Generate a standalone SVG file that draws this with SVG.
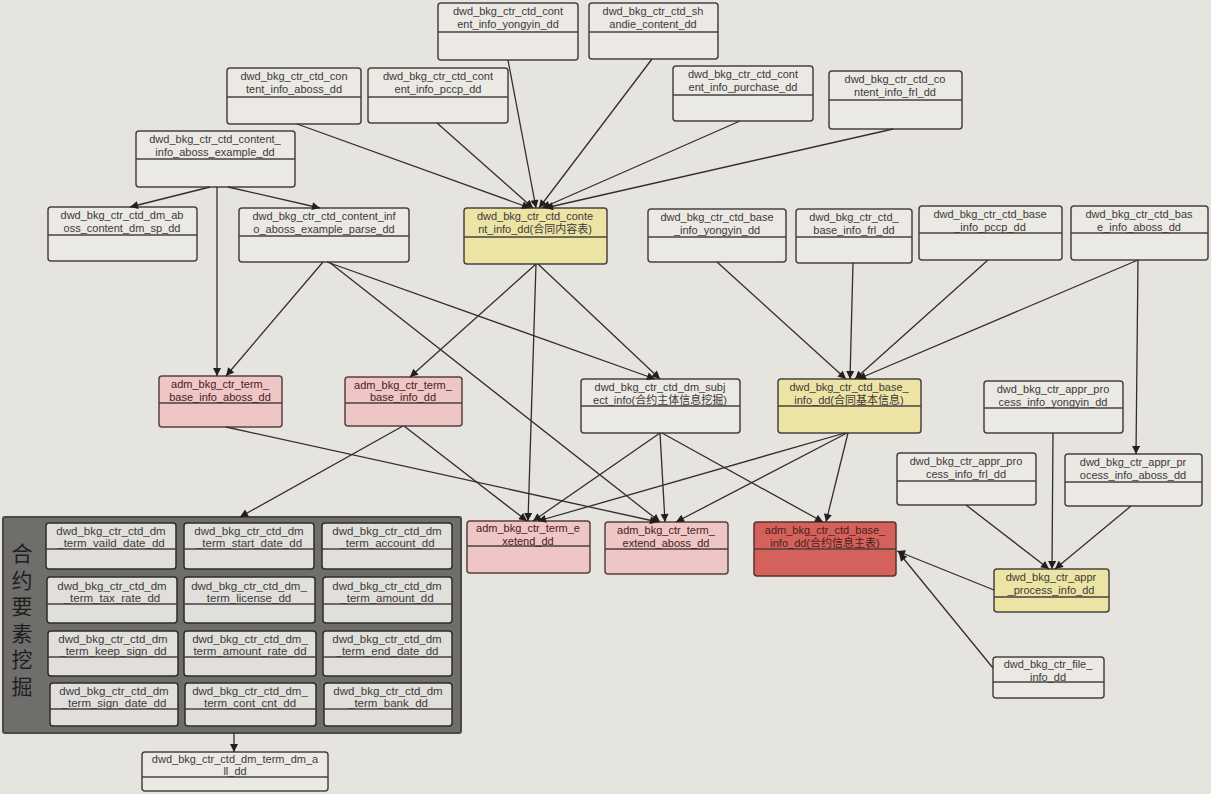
<svg xmlns="http://www.w3.org/2000/svg" width="1211" height="794" viewBox="0 0 1211 794">
<defs>
<marker id="arr" viewBox="0 0 10 10" refX="10" refY="5" markerWidth="10" markerHeight="8" markerUnits="userSpaceOnUse" orient="auto">
<path d="M0,0 L10,5 L0,10 z" fill="#231f1f"/>
</marker>
</defs>
<style>
.bg{fill:#e6e4df}
.box{fill:#ebe9e4;stroke:#4a4040;stroke-width:1.5}
.yel{fill:#ece4a4;stroke:#4a4040;stroke-width:1.5}
.pink{fill:#efc6c6;stroke:#5a3f3f;stroke-width:1.5}
.red{fill:#d4625b;stroke:#5a3030;stroke-width:1.5}
.gbox{fill:#e0dfdb;stroke:#2e2c2c;stroke-width:1.5}
.div{stroke:#4a4040;stroke-width:1.3}
.t{font-family:"Liberation Sans","Noto Sans CJK SC",sans-serif;font-size:11px;fill:#3e3a3a;text-anchor:middle}
.tg{font-family:"Liberation Sans","Noto Sans CJK SC",sans-serif;font-size:11.5px;fill:#3e3a3a;text-anchor:middle}
.tr{font-family:"Liberation Sans","Noto Sans CJK SC",sans-serif;font-size:11px;fill:#4a2020;text-anchor:middle}
.grp{fill:#6f6e6b;stroke:#4a4947;stroke-width:2}
.gl{font-family:"Noto Sans CJK SC",sans-serif;font-size:21px;fill:#1e1e1e;writing-mode:vertical-rl;letter-spacing:5.5px}
.e{stroke:#332e2e;stroke-width:1.3;fill:none;marker-end:url(#arr)}
</style>
<rect class="bg" x="0" y="0" width="1211" height="794"/>

<g id="group_term">
<rect class="grp" x="3" y="517" width="458" height="216" rx="2"/>
<text class="gl" x="22" y="543">合约要素挖掘</text>
</g>

<g id="n_vaild"><rect class="gbox" x="46" y="523" width="130" height="46" rx="3"/><line class="div" x1="46" y1="549" x2="176" y2="549"/><text class="tg" x="111" y="535">dwd_bkg_ctr_ctd_dm</text><text class="tg" x="111" y="547">_term_vaild_date_dd</text></g>
<g id="n_start"><rect class="gbox" x="184" y="523" width="130" height="46" rx="3"/><line class="div" x1="184" y1="549" x2="314" y2="549"/><text class="tg" x="249" y="535">dwd_bkg_ctr_ctd_dm</text><text class="tg" x="249" y="547">_term_start_date_dd</text></g>
<g id="n_account"><rect class="gbox" x="322" y="523" width="130" height="46" rx="3"/><line class="div" x1="322" y1="549" x2="452" y2="549"/><text class="tg" x="387" y="535">dwd_bkg_ctr_ctd_dm</text><text class="tg" x="387" y="547">_term_account_dd</text></g>

<g id="n_tax"><rect class="gbox" x="47" y="577" width="130" height="46" rx="3"/><line class="div" x1="47" y1="604" x2="177" y2="604"/><text class="tg" x="112" y="590">dwd_bkg_ctr_ctd_dm</text><text class="tg" x="112" y="602">_term_tax_rate_dd</text></g>
<g id="n_license"><rect class="gbox" x="184" y="577" width="131" height="46" rx="3"/><line class="div" x1="184" y1="604" x2="315" y2="604"/><text class="tg" x="249" y="590">dwd_bkg_ctr_ctd_dm_</text><text class="tg" x="249" y="602">term_license_dd</text></g>
<g id="n_amount"><rect class="gbox" x="323" y="577" width="129" height="46" rx="3"/><line class="div" x1="323" y1="604" x2="452" y2="604"/><text class="tg" x="387" y="590">dwd_bkg_ctr_ctd_dm</text><text class="tg" x="387" y="602">_term_amount_dd</text></g>

<g id="n_keep"><rect class="gbox" x="48" y="631" width="130" height="45" rx="3"/><line class="div" x1="48" y1="657" x2="178" y2="657"/><text class="tg" x="113" y="643">dwd_bkg_ctr_ctd_dm</text><text class="tg" x="113" y="655">_term_keep_sign_dd</text></g>
<g id="n_amount_rate"><rect class="gbox" x="184" y="631" width="132" height="45" rx="3"/><line class="div" x1="184" y1="657" x2="316" y2="657"/><text class="tg" x="250" y="643">dwd_bkg_ctr_ctd_dm_</text><text class="tg" x="250" y="655">term_amount_rate_dd</text></g>
<g id="n_end"><rect class="gbox" x="323" y="631" width="129" height="45" rx="3"/><line class="div" x1="323" y1="657" x2="452" y2="657"/><text class="tg" x="387" y="643">dwd_bkg_ctr_ctd_dm</text><text class="tg" x="387" y="655">_term_end_date_dd</text></g>

<g id="n_sign"><rect class="gbox" x="50" y="683" width="128" height="43" rx="3"/><line class="div" x1="50" y1="709" x2="178" y2="709"/><text class="tg" x="114" y="695">dwd_bkg_ctr_ctd_dm</text><text class="tg" x="114" y="707">_term_sign_date_dd</text></g>
<g id="n_cont_cnt"><rect class="gbox" x="185" y="683" width="131" height="43" rx="3"/><line class="div" x1="185" y1="709" x2="316" y2="709"/><text class="tg" x="250" y="695">dwd_bkg_ctr_ctd_dm_</text><text class="tg" x="250" y="707">term_cont_cnt_dd</text></g>
<g id="n_bank"><rect class="gbox" x="324" y="683" width="128" height="43" rx="3"/><line class="div" x1="324" y1="709" x2="452" y2="709"/><text class="tg" x="388" y="695">dwd_bkg_ctr_ctd_dm</text><text class="tg" x="388" y="707">_term_bank_dd</text></g>

<g id="n_yongyin"><rect class="box" x="438" y="3" width="140" height="57" rx="3"/><line class="div" x1="438" y1="32" x2="578" y2="32"/><text class="t" x="508" y="15">dwd_bkg_ctr_ctd_cont</text><text class="t" x="508" y="28">ent_info_yongyin_dd</text></g>
<g id="n_shandie"><rect class="box" x="589" y="3" width="129" height="56" rx="3"/><line class="div" x1="589" y1="32" x2="718" y2="32"/><text class="t" x="653" y="15">dwd_bkg_ctr_ctd_sh</text><text class="t" x="653" y="28">andie_content_dd</text></g>
<g id="n_c_aboss"><rect class="box" x="227" y="68" width="134" height="56" rx="3"/><line class="div" x1="227" y1="97" x2="361" y2="97"/><text class="t" x="294" y="80">dwd_bkg_ctr_ctd_con</text><text class="t" x="294" y="93">tent_info_aboss_dd</text></g>
<g id="n_c_pccp"><rect class="box" x="368" y="68" width="140" height="55" rx="3"/><line class="div" x1="368" y1="97" x2="508" y2="97"/><text class="t" x="438" y="80">dwd_bkg_ctr_ctd_cont</text><text class="t" x="438" y="93">ent_info_pccp_dd</text></g>
<g id="n_c_purchase"><rect class="box" x="673" y="66" width="140" height="55" rx="3"/><line class="div" x1="673" y1="95" x2="813" y2="95"/><text class="t" x="743" y="78">dwd_bkg_ctr_ctd_cont</text><text class="t" x="743" y="91">ent_info_purchase_dd</text></g>
<g id="n_c_frl"><rect class="box" x="829" y="71" width="133" height="58" rx="3"/><line class="div" x1="829" y1="100" x2="962" y2="100"/><text class="t" x="895" y="83">dwd_bkg_ctr_ctd_co</text><text class="t" x="895" y="96">ntent_info_frl_dd</text></g>
<g id="n_example"><rect class="box" x="136" y="131" width="159" height="56" rx="3"/><line class="div" x1="136" y1="159" x2="295" y2="159"/><text class="t" x="215" y="143">dwd_bkg_ctr_ctd_content_</text><text class="t" x="215" y="156">info_aboss_example_dd</text></g>
<g id="n_dm_aboss"><rect class="box" x="48" y="207" width="149" height="54" rx="3"/><line class="div" x1="48" y1="235" x2="197" y2="235"/><text class="t" x="122" y="219">dwd_bkg_ctr_ctd_dm_ab</text><text class="t" x="122" y="232">oss_content_dm_sp_dd</text></g>
<g id="n_parse"><rect class="box" x="239" y="208" width="170" height="54" rx="3"/><line class="div" x1="239" y1="236" x2="409" y2="236"/><text class="t" x="324" y="220">dwd_bkg_ctr_ctd_content_inf</text><text class="t" x="324" y="233">o_aboss_example_parse_dd</text></g>
<g id="n_content"><rect class="yel" x="464" y="208" width="143" height="56" rx="3"/><line class="div" x1="464" y1="237" x2="607" y2="237"/><text class="t" x="535" y="220">dwd_bkg_ctr_ctd_conte</text><text class="t" x="535" y="233">nt_info_dd(合同内容表)</text></g>
<g id="n_b_yongyin"><rect class="box" x="648" y="209" width="138" height="53" rx="3"/><line class="div" x1="648" y1="237" x2="786" y2="237"/><text class="t" x="717" y="221">dwd_bkg_ctr_ctd_base</text><text class="t" x="717" y="234">_info_yongyin_dd</text></g>
<g id="n_b_frl"><rect class="box" x="796" y="209" width="116" height="54" rx="3"/><line class="div" x1="796" y1="237" x2="912" y2="237"/><text class="t" x="854" y="221">dwd_bkg_ctr_ctd_</text><text class="t" x="854" y="234">base_info_frl_dd</text></g>
<g id="n_b_pccp"><rect class="box" x="919" y="206" width="143" height="54" rx="3"/><line class="div" x1="919" y1="233" x2="1062" y2="233"/><text class="t" x="990" y="218">dwd_bkg_ctr_ctd_base</text><text class="t" x="990" y="231">_info_pccp_dd</text></g>
<g id="n_b_aboss"><rect class="box" x="1071" y="206" width="137" height="54" rx="3"/><line class="div" x1="1071" y1="233" x2="1208" y2="233"/><text class="t" x="1139" y="218">dwd_bkg_ctr_ctd_bas</text><text class="t" x="1139" y="231">e_info_aboss_dd</text></g>
<g id="n_tb_aboss"><rect class="pink" x="159" y="376" width="123" height="51" rx="3"/><line class="div" x1="159" y1="403" x2="282" y2="403"/><text class="tr" x="220" y="388">adm_bkg_ctr_term_</text><text class="tr" x="220" y="401">base_info_aboss_dd</text></g>
<g id="n_tb_info"><rect class="pink" x="345" y="377" width="117" height="49" rx="3"/><line class="div" x1="345" y1="403" x2="462" y2="403"/><text class="tr" x="403" y="389">adm_bkg_ctr_term_</text><text class="tr" x="403" y="401">base_info_dd</text></g>
<g id="n_subject"><rect class="box" x="581" y="379" width="159" height="54" rx="3"/><line class="div" x1="581" y1="406" x2="740" y2="406"/><text class="t" x="660" y="391">dwd_bkg_ctr_ctd_dm_subj</text><text class="t" x="660" y="404">ect_info(合约主体信息挖掘)</text></g>
<g id="n_base"><rect class="yel" x="778" y="379" width="143" height="54" rx="3"/><line class="div" x1="778" y1="406" x2="921" y2="406"/><text class="t" x="849" y="391">dwd_bkg_ctr_ctd_base_</text><text class="t" x="849" y="404">info_dd(合同基本信息)</text></g>
<g id="n_ap_yongyin"><rect class="box" x="984" y="381" width="139" height="52" rx="3"/><line class="div" x1="984" y1="408" x2="1123" y2="408"/><text class="t" x="1053" y="393">dwd_bkg_ctr_appr_pro</text><text class="t" x="1053" y="406">cess_info_yongyin_dd</text></g>
<g id="n_ap_frl"><rect class="box" x="897" y="453" width="139" height="52" rx="3"/><line class="div" x1="897" y1="481" x2="1036" y2="481"/><text class="t" x="966" y="465">dwd_bkg_ctr_appr_pro</text><text class="t" x="966" y="478">cess_info_frl_dd</text></g>
<g id="n_ap_aboss"><rect class="box" x="1065" y="454" width="137" height="52" rx="3"/><line class="div" x1="1065" y1="482" x2="1202" y2="482"/><text class="t" x="1133" y="466">dwd_bkg_ctr_appr_pr</text><text class="t" x="1133" y="479">ocess_info_aboss_dd</text></g>
<g id="n_te"><rect class="pink" x="467" y="521" width="123" height="52" rx="3"/><line class="div" x1="467" y1="546" x2="590" y2="546"/><text class="tr" x="528" y="532">adm_bkg_ctr_term_e</text><text class="tr" x="528" y="545">xetend_dd</text></g>
<g id="n_te_aboss"><rect class="pink" x="605" y="522" width="123" height="52" rx="3"/><line class="div" x1="605" y1="549" x2="728" y2="549"/><text class="tr" x="666" y="534">adm_bkg_ctr_term_</text><text class="tr" x="666" y="547">extend_aboss_dd</text></g>
<g id="n_main"><rect class="red" x="754" y="522" width="142" height="54" rx="3"/><line class="div" x1="754" y1="549" x2="896" y2="549"/><text class="tr" x="825" y="534">adm_bkg_ctr_ctd_base_</text><text class="tr" x="825" y="547">info_dd(合约信息主表)</text></g>
<g id="n_ap"><rect class="yel" x="994" y="569" width="115" height="43" rx="3"/><line class="div" x1="994" y1="597" x2="1109" y2="597"/><text class="t" x="1051" y="581">dwd_bkg_ctr_appr</text><text class="t" x="1051" y="594">_process_info_dd</text></g>
<g id="n_file"><rect class="box" x="993" y="657" width="111" height="41" rx="3"/><line class="div" x1="993" y1="682" x2="1104" y2="682"/><text class="t" x="1048" y="668">dwd_bkg_ctr_file_</text><text class="t" x="1048" y="681">info_dd</text></g>
<g id="n_all"><rect class="box" x="142" y="752" width="186" height="39" rx="3"/><line class="div" x1="142" y1="777" x2="328" y2="777"/><text class="t" x="235" y="763">dwd_bkg_ctr_ctd_dm_term_dm_a</text><text class="t" x="235" y="775">ll_dd</text></g>

<g id="connectors">
<line class="e" x1="297" y1="124" x2="530" y2="208"/>
<line class="e" x1="437" y1="123" x2="533" y2="208"/>
<line class="e" x1="508" y1="60" x2="536" y2="208"/>
<line class="e" x1="652" y1="59" x2="539" y2="208"/>
<line class="e" x1="740" y1="121" x2="542" y2="208"/>
<line class="e" x1="893" y1="129" x2="545" y2="208"/>
<line class="e" x1="210" y1="187" x2="130" y2="207"/>
<line class="e" x1="228" y1="187" x2="320" y2="208"/>
<line class="e" x1="217" y1="187" x2="217" y2="376"/>
<line class="e" x1="323" y1="262" x2="226" y2="376"/>
<line class="e" x1="327" y1="262" x2="655" y2="379"/>
<line class="e" x1="329" y1="262" x2="660" y2="522"/>
<line class="e" x1="536" y1="264" x2="410" y2="377"/>
<line class="e" x1="536" y1="264" x2="528" y2="521"/>
<line class="e" x1="538" y1="264" x2="660" y2="379"/>
<line class="e" x1="226" y1="427" x2="658" y2="522"/>
<line class="e" x1="403" y1="426" x2="240" y2="517"/>
<line class="e" x1="404" y1="426" x2="527" y2="521"/>
<line class="e" x1="660" y1="433" x2="533" y2="521"/>
<line class="e" x1="660" y1="433" x2="665" y2="522"/>
<line class="e" x1="662" y1="433" x2="823" y2="522"/>
<line class="e" x1="845" y1="433" x2="538" y2="521"/>
<line class="e" x1="847" y1="433" x2="676" y2="522"/>
<line class="e" x1="848" y1="433" x2="826" y2="522"/>
<line class="e" x1="717" y1="262" x2="846" y2="379"/>
<line class="e" x1="853" y1="263" x2="850" y2="379"/>
<line class="e" x1="988" y1="260" x2="855" y2="379"/>
<line class="e" x1="1138" y1="260" x2="858" y2="379"/>
<line class="e" x1="1138" y1="260" x2="1136" y2="454"/>
<line class="e" x1="1053" y1="433" x2="1052" y2="569"/>
<line class="e" x1="966" y1="505" x2="1049" y2="569"/>
<line class="e" x1="1131" y1="506" x2="1055" y2="569"/>
<line class="e" x1="994" y1="590" x2="897" y2="551"/>
<line class="e" x1="993" y1="668" x2="899" y2="553"/>
<line class="e" x1="234" y1="733" x2="234" y2="752"/>
</g>
</svg>
